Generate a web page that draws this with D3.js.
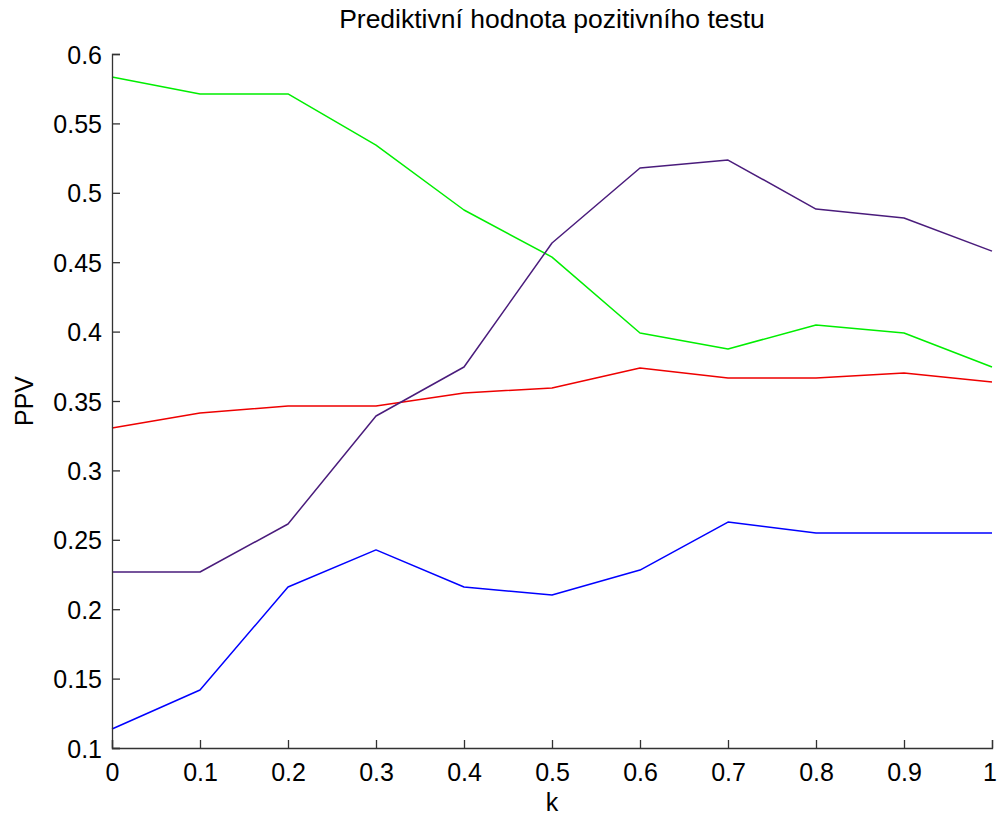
<!DOCTYPE html>
<html>
<head>
<meta charset="utf-8">
<script src="https://cdn.jsdelivr.net/npm/d3@7"></script>
<style>
  html, body { margin: 0; padding: 0; background: #fff; }
  svg { display: block; }
  text { font-family: "Liberation Sans", Arial, sans-serif; fill: #000; }
</style>
</head>
<body>
<svg id="chart" width="997" height="816"></svg>
<script>
// k values along the x axis
const kValues = [0, 0.1, 0.2, 0.3, 0.4, 0.5, 0.6, 0.7, 0.8, 0.9, 1];

// PPV series
const ppvGreen  = [0.5834, 0.5712, 0.5712, 0.5344, 0.4876, 0.4537, 0.3990, 0.3875, 0.4048, 0.3990, 0.3745];
const ppvPurple = [0.2268, 0.2268, 0.2614, 0.3392, 0.3745, 0.4638, 0.5179, 0.5236, 0.4883, 0.4818, 0.4580];
const ppvRed    = [0.3305, 0.3413, 0.3464, 0.3464, 0.3558, 0.3594, 0.3738, 0.3666, 0.3666, 0.3702, 0.3637];
const ppvBlue   = [0.1137, 0.1418, 0.2160, 0.2427, 0.2160, 0.2102, 0.2282, 0.2628, 0.2549, 0.2549, 0.2549];

// Tick values
const xTicks = [0, 0.1, 0.2, 0.3, 0.4, 0.5, 0.6, 0.7, 0.8, 0.9, 1];
const yTicks = [0.1, 0.15, 0.2, 0.25, 0.3, 0.35, 0.4, 0.45, 0.5, 0.55, 0.6];

const titleText = "Prediktivní hodnota pozitivního testu";
const xLabel = "k";
const yLabel = "PPV";

const series = [
  { values: ppvBlue,   color: "#0000ff" },
  { values: ppvGreen,  color: "#00ee00" },
  { values: ppvRed,    color: "#ee0000" },
  { values: ppvPurple, color: "#4a1c7c" }
];

const svg = d3.select("#chart");
const plot = { left: 112, right: 992, top: 54, bottom: 748 };

const x = d3.scaleLinear().domain([0, 1]).range([plot.left, plot.right]);
const y = d3.scaleLinear().domain([0.1, 0.6]).range([plot.bottom, plot.top]);

const fmt = v => String(+v.toFixed(2));

// lines
const line = d3.line()
  .x((d, i) => x(kValues[i]))
  .y(d => y(d));

svg.append("g")
  .selectAll("path")
  .data(series)
  .join("path")
  .attr("d", s => line(s.values))
  .attr("fill", "none")
  .attr("stroke", s => s.color)
  .attr("stroke-width", 1.5)
  .attr("stroke-linejoin", "round");

// x axis (ticks point inward)
const xAxis = svg.append("g")
  .attr("transform", `translate(0,${plot.bottom})`)
  .call(d3.axisBottom(x).tickValues(xTicks).tickSize(-8).tickPadding(33).tickFormat(fmt));

// y axis (ticks point inward)
const yAxis = svg.append("g")
  .attr("transform", `translate(${plot.left},0)`)
  .call(d3.axisLeft(y).tickValues(yTicks).tickSize(-8).tickPadding(10).tickFormat(fmt));

[xAxis, yAxis].forEach(g => {
  g.select(".domain").attr("stroke", "#333").attr("stroke-width", 1.3);
  g.selectAll(".tick line").attr("stroke", "#333").attr("stroke-width", 1.3);
  g.selectAll(".tick text")
    .attr("font-size", 25)
    .attr("font-family", "'Liberation Sans', Arial, sans-serif")
    .attr("fill", "#000");
});
xAxis.selectAll(".tick text").attr("dy", 0).attr("y", 33);
// keep the last x label inside the canvas
xAxis.selectAll(".tick text").filter(d => d === 1).attr("dx", -2.5);
yAxis.selectAll(".tick text").attr("dy", "0.36em");

// title
svg.append("text")
  .attr("x", (plot.left + plot.right) / 2)
  .attr("y", 28)
  .attr("text-anchor", "middle")
  .attr("font-size", 26.5)
  .text(titleText);

// axis labels
svg.append("text")
  .attr("x", (plot.left + plot.right) / 2)
  .attr("y", 811)
  .attr("text-anchor", "middle")
  .attr("font-size", 25)
  .text(xLabel);

svg.append("text")
  .attr("transform", `translate(33,${(plot.top + plot.bottom) / 2}) rotate(-90)`)
  .attr("text-anchor", "middle")
  .attr("font-size", 25)
  .text(yLabel);
</script>
</body>
</html>
